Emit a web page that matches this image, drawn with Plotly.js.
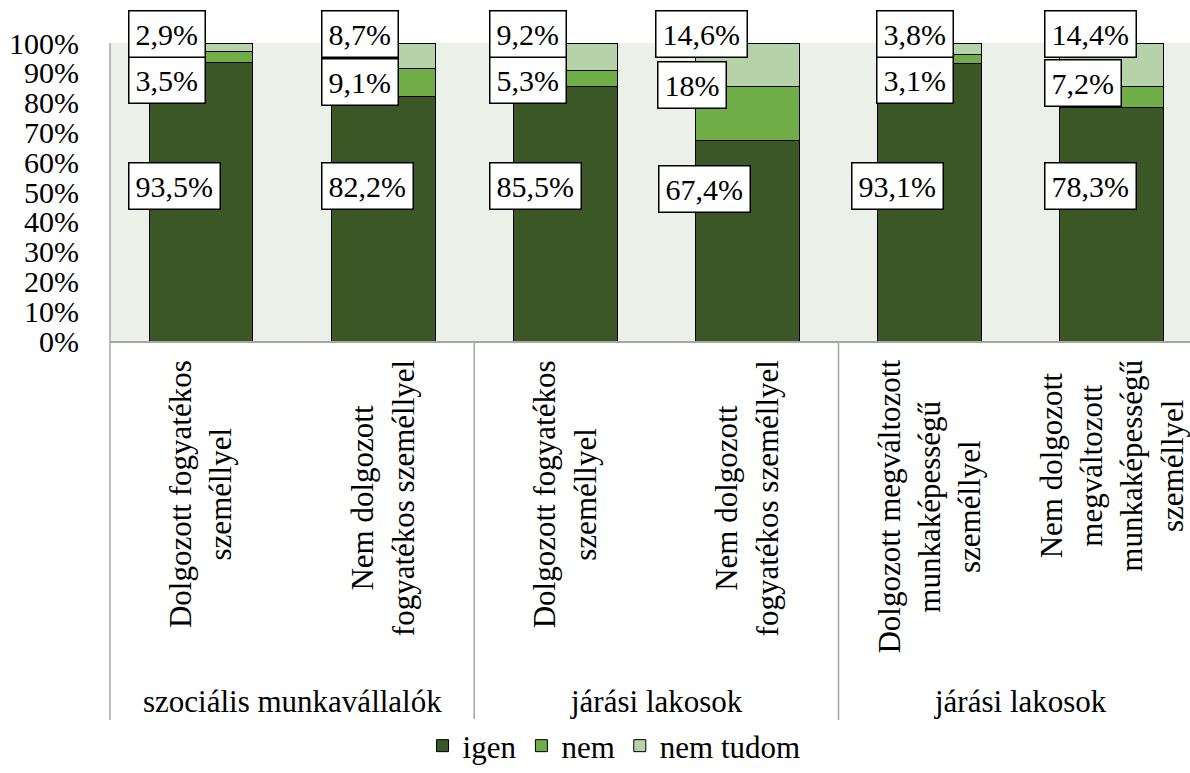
<!DOCTYPE html>
<html>
<head>
<meta charset="utf-8">
<script src="https://cdn.plot.ly/plotly-3.0.1.min.js"></script>
<style>
  html, body { margin: 0; padding: 0; background: #fff; }
  #chart { width: 1190px; height: 773px; }
</style>
</head>
<body>
<div id="chart"></div>
<script>
// group (lower level) and category (upper level) labels
const groups = [
  "szociális munkavállalók", "szociális munkavállalók",
  "járási lakosok", "járási lakosok",
  "járási lakosok ", "járási lakosok ",
]
const labels = [
  "Dolgozott fogyatékos<br>személlyel",
  "Nem dolgozott<br>fogyatékos személlyel",
  "Dolgozott fogyatékos<br>személlyel",
  "Nem dolgozott<br>fogyatékos személlyel",
  "Dolgozott megváltozott<br>munkaképességű<br>személlyel",
  "Nem dolgozott<br>megváltozott<br>munkaképességű<br>személlyel",
]

const igen = [93.5, 82.2, 85.5, 67.4, 93.1, 78.3]
const nem = [3.5, 9.1, 5.3, 18, 3.1, 7.2]
const nemTudom = [2.9, 8.7, 9.2, 14.6, 3.8, 14.4]

// label placement (hand-placed boxes, as in the original), in % of axis height
const labelY = { igen: [52, 52, 52, 51, 52, 52], nem: [87.6, 87, 87.6, 86, 87.6, 86.7], nemTudom: [102.9, 102.9, 102.9, 102.9, 102.9, 102.9] }
const labelShift = { igen: [-73, -62, -76, -89, -79, -68], nem: [-73, -62, -76, -90, -54, -68], nemTudom: [-73, -62, -76, -92, -54, -68] }

const keys = groups.map((g, i) => g + "|" + labels[i])

const FONT = "Liberation Serif"
const SIZE = 30
const colors = { igen: "#3A5725", nem: "#70AD47", nemTudom: "#B5D2A8" }

function fmt(v) {
  return String(v).replace(".", ",") + "%"
}

const series = [
  { name: "igen", key: "igen", values: igen },
  { name: "nem", key: "nem", values: nem },
  { name: "nem tudom", key: "nemTudom", values: nemTudom },
]

const data = series.map((s) => ({
  type: "bar",
  name: s.name,
  x: keys,
  y: s.values,
  marker: { color: colors[s.key], line: { color: "#000", width: 1 } },
  hoverinfo: "skip",
}))

const annotations = []
series.forEach((s) => {
  s.values.forEach((v, i) => {
    annotations.push({
      x: keys[i],
      y: labelY[s.key][i] / 100,
      xref: "x",
      yref: "paper",
      text: fmt(v),
      showarrow: false,
      xanchor: "left",
      yanchor: "middle",
      xshift: labelShift[s.key][i],
      bgcolor: "#fff",
      bordercolor: "#000",
      borderwidth: 1.5,
      borderpad: 6,
      font: { family: FONT, size: SIZE, color: "#000" },
    })
  })
})

// rotated category labels
labels.forEach((lab, i) => {
  annotations.push({
    x: keys[i],
    y: -0.057,
    xref: "x",
    yref: "paper",
    text: lab,
    textangle: -90,
    showarrow: false,
    xanchor: "center",
    yanchor: "top",
    align: "center",
    font: { family: FONT, size: 31, color: "#000" },
  })
})

// group labels, centred under their categories
const groupNames = [...new Set(groups)]
groupNames.forEach((g) => {
  const idx = groups.map((x, i) => (x === g ? i : -1)).filter((i) => i >= 0)
  const mid = (idx[0] + idx[idx.length - 1]) / 2
  annotations.push({
    x: mid,
    y: -1.21,
    xref: "x",
    yref: "paper",
    text: g.trim(),
    showarrow: false,
    xanchor: "center",
    yanchor: "middle",
    font: { family: FONT, size: 31, color: "#000" },
  })
})

const lineStyle = { color: "#A6A6A6", width: 1.5 }
const shapes = [
  { type: "line", xref: "paper", yref: "paper", x0: 0, x1: 0, y0: 1, y1: -1.272, line: lineStyle },
]
groupNames.slice(1).forEach((g) => {
  const first = groups.indexOf(g)
  shapes.push({ type: "line", xref: "x", yref: "paper", x0: first - 0.5, x1: first - 0.5, y0: 0, y1: -1.272, line: lineStyle })
})

const layout = {
  width: 1190,
  height: 773,
  margin: { l: 110, r: 0, t: 43, b: 432 },
  paper_bgcolor: "#fff",
  plot_bgcolor: "#EBF0E8",
  barmode: "stack",
  bargap: 0.43,
  font: { family: FONT, size: SIZE, color: "#000" },
  xaxis: {
    type: "category",
    range: [-0.5, 5.43],
    showticklabels: false,
    ticks: "",
    showgrid: false,
    showline: true,
    linecolor: "#A6A6A6",
    linewidth: 1.5,
    fixedrange: true,
  },
  yaxis: {
    range: [0, 100],
    dtick: 10,
    ticksuffix: "%",
    showgrid: false,
    zeroline: false,
    showline: false,
    ticks: "",
    ticklabelstandoff: 30,
    tickfont: { family: FONT, size: SIZE, color: "#000" },
    fixedrange: true,
  },
  legend: {
    orientation: "h",
    traceorder: "normal",
    xref: "container",
    yref: "container",
    x: 0.516,
    xanchor: "center",
    y: -0.032,
    yanchor: "bottom",
    font: { family: FONT, size: 31, color: "#000" },
    itemwidth: 30,
  },
  annotations: annotations,
  shapes: shapes,
}

Plotly.newPlot("chart", data, layout, { displayModeBar: false, staticPlot: true })
</script>
</body>
</html>
